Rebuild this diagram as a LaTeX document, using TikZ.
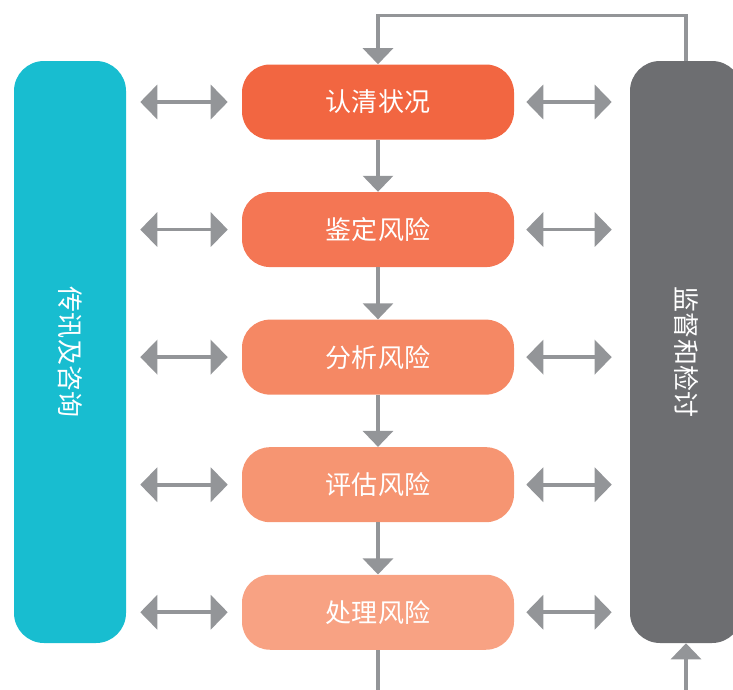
\documentclass[tikz,border=0pt]{standalone}
\usepackage{fontspec}
\newfontfamily\cjk{Noto Sans CJK SC}
\usepackage{xcolor}
\usetikzlibrary{arrows.meta,positioning,calc}
\definecolor{rkStepA}{HTML}{F26641}
\definecolor{rkStepB}{HTML}{F47654}
\definecolor{rkStepC}{HTML}{F58864}
\definecolor{rkStepD}{HTML}{F69572}
\definecolor{rkStepE}{HTML}{F8A283}
\definecolor{rkTeal}{HTML}{18BDD0}
\definecolor{rkSlate}{HTML}{6D6E71}
\definecolor{rkLink}{HTML}{939598}
\tikzset{
  % Orange process step
  stepbox/.style={rectangle,rounded corners=0.7cm,
    minimum width=6.8cm,minimum height=1.875cm,inner sep=0pt,
    align=center,text=white,font=\cjk\fontsize{18.5}{22}\selectfont},
  % Tall side bar
  sidebar/.style={rectangle,rounded corners=0.75cm,
    minimum width=2.8cm,minimum height=14.55cm,inner sep=0pt},
  % Vertical text on a side bar
  sidetext/.style={rotate=-90,text=white,font=\cjk\fontsize{18.5}{22}\selectfont},
  % Arrows
  arr/.style={-{Triangle[length=0.4cm,width=0.75cm]},line width=2.2pt,color=rkLink},
  ln/.style={line width=2.2pt,color=rkLink},
  darr/.style={{Triangle[length=0.425cm,width=0.85cm]}-{Triangle[length=0.425cm,width=0.85cm]},
    line width=2.6pt,color=rkLink},
}
\begin{document}
\begin{tikzpicture}[node distance=1.3cm]
  \useasboundingbox (0,0) rectangle (18.325,-17.225);

  \node[stepbox,fill=rkStepA] (b1) at (9.45,-2.55) {认清状况};
  \node[stepbox,fill=rkStepB,below=of b1] (b2) {鉴定风险};
  \node[stepbox,fill=rkStepC,below=of b2] (b3) {分析风险};
  \node[stepbox,fill=rkStepD,below=of b3] (b4) {评估风险};
  \node[stepbox,fill=rkStepE,below=of b4] (b5) {处理风险};

  % Side bars
  \node[sidebar,fill=rkTeal,
    label={[sidetext]center:传讯及咨询}] (com) at (1.75,-8.8) {};
  \node[sidebar,fill=rkSlate,
    label={[sidetext]center:监督和检讨}] (mon) at (17.15,-8.8) {};

  \coordinate (out) at (9.45,-17.4);
  \coordinate (in) at (17.15,-17.4);

  \draw[arr] (b1) -- (b2);
  \draw[arr] (b2) -- (b3);
  \draw[arr] (b3) -- (b4);
  \draw[arr] (b4) -- (b5);
  \draw[ln] (b5) -- (out);
  \draw[arr] (in) -- (mon);
  \draw[arr] (mon.north) -- ++(0,1.125) -| (b1.north);

  \draw[darr,shorten <=0.35cm,shorten >=0.35cm] (com.east |- b1) -- (b1.west);
  \draw[darr,shorten <=0.35cm,shorten >=0.35cm] (com.east |- b2) -- (b2.west);
  \draw[darr,shorten <=0.35cm,shorten >=0.35cm] (com.east |- b3) -- (b3.west);
  \draw[darr,shorten <=0.35cm,shorten >=0.35cm] (com.east |- b4) -- (b4.west);
  \draw[darr,shorten <=0.35cm,shorten >=0.35cm] (com.east |- b5) -- (b5.west);

  \draw[darr,shorten <=0.3cm,shorten >=0.45cm] (b1.east) -- (mon.west |- b1);
  \draw[darr,shorten <=0.3cm,shorten >=0.45cm] (b2.east) -- (mon.west |- b2);
  \draw[darr,shorten <=0.3cm,shorten >=0.45cm] (b3.east) -- (mon.west |- b3);
  \draw[darr,shorten <=0.3cm,shorten >=0.45cm] (b4.east) -- (mon.west |- b4);
  \draw[darr,shorten <=0.3cm,shorten >=0.45cm] (b5.east) -- (mon.west |- b5);
\end{tikzpicture}
\end{document}
